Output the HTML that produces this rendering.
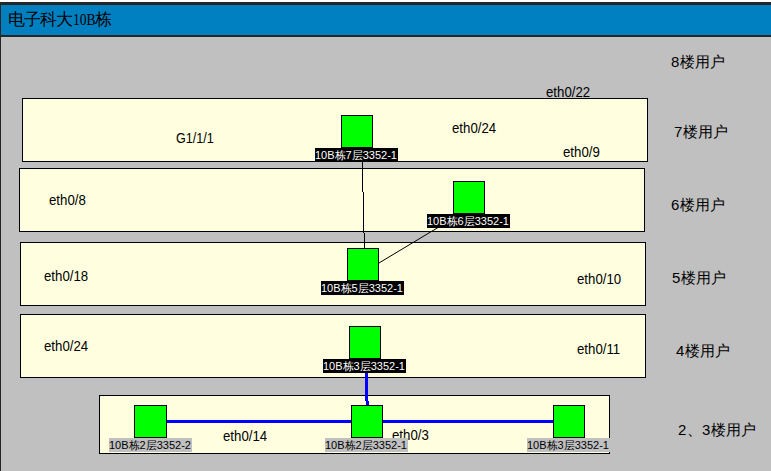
<!DOCTYPE html>
<html><head><meta charset="utf-8">
<style>
html,body{margin:0;padding:0}
body{width:771px;height:471px;position:relative;overflow:hidden;background:#c0c0c0;font-family:"Liberation Sans",sans-serif;color:#000}
div{position:absolute;box-sizing:border-box}
#topw{left:0;top:0;width:771px;height:2px;background:#fff}
#bar{left:0;top:2px;width:771px;height:35px;background:#0080c0;border-top:3px solid #262626;border-bottom:2px solid #262626;border-left:1px solid #262626}
#lb{left:0;top:37px;width:1px;height:434px;background:#262626}
#title{left:8px;top:10px;font-size:17px;line-height:20px;white-space:nowrap;letter-spacing:-1px}
.ser{display:inline-block;font-family:"Liberation Serif",serif;font-size:16px;letter-spacing:0;transform:scaleX(.85);transform-origin:0 0;width:22px;margin-left:1px}
.r{border:1px solid #000;background:#ffffe0}
.t{font-size:14px;line-height:14px;white-space:nowrap;transform:scaleX(0.945);transform-origin:0 0}
.u{font-size:15px;line-height:16px;white-space:nowrap;letter-spacing:0.3px}
.sq{width:32px;height:33px;border:1px solid #000;background:#00ff00}
.lbl{width:83px;height:14px;background:#000;color:#fff;font-size:11px;line-height:14px;white-space:nowrap;padding-left:0}
.lbg{background:#c0c0c0;color:#000}
svg{position:absolute;left:0;top:0}
</style></head><body>
<div id="topw"></div>
<div id="bar"></div>
<div id="lb"></div>
<div id="title">电子科大<span class="ser">10B</span>栋</div>

<div class="u" style="left:671px;top:54px">8楼用户</div>
<div class="u" style="left:674px;top:124px">7楼用户</div>
<div class="u" style="left:671px;top:197px">6楼用户</div>
<div class="u" style="left:672px;top:270px">5楼用户</div>
<div class="u" style="left:676px;top:343px">4楼用户</div>
<div class="u" style="left:678px;top:422px">2、3楼用户</div>

<div class="t" style="left:546px;top:85px">eth0/22</div>

<div class="r" style="left:22px;top:98px;width:626px;height:64px"></div>
<div class="r" style="left:19px;top:168px;width:626px;height:64px"></div>
<div class="r" style="left:20px;top:242px;width:626px;height:64px"></div>
<div class="r" style="left:20px;top:314px;width:626px;height:64px"></div>
<div class="r" style="left:99px;top:395px;width:511px;height:59px"></div>

<div class="t" style="left:176px;top:131px;transform:scaleX(0.9)">G1/1/1</div>
<div class="t" style="left:452px;top:121px">eth0/24</div>
<div class="t" style="left:563px;top:145px">eth0/9</div>
<div class="t" style="left:49px;top:193px">eth0/8</div>
<div class="t" style="left:44px;top:269px">eth0/18</div>
<div class="t" style="left:577px;top:272px">eth0/10</div>
<div class="t" style="left:44px;top:339px">eth0/24</div>
<div class="t" style="left:577px;top:342px">eth0/11</div>
<div class="t" style="left:223px;top:429px">eth0/14</div>
<div class="t" style="left:392px;top:428px">eth0/3</div>

<div style="left:362px;top:161px;width:1px;height:31px;background:#000"></div>
<div style="left:363px;top:192px;width:1px;height:41px;background:#000"></div>
<div style="left:364px;top:233px;width:1px;height:15px;background:#000"></div>
<svg width="771" height="471">
<line x1="438" y1="227.5" x2="379" y2="263" stroke="#000" stroke-width="1"/>
</svg>
<div style="left:365px;top:373px;width:3px;height:28px;background:#0000ff"></div>
<div style="left:366px;top:401px;width:3px;height:4px;background:#0000ff"></div>
<div style="left:167px;top:420px;width:386px;height:3px;background:#0000ff"></div>

<div class="sq" style="left:341px;top:115px"></div>
<div class="lbl" style="left:315px;top:148px">10B栋7层3352-1</div>
<div class="sq" style="left:453px;top:181px"></div>
<div class="lbl" style="left:427px;top:214px">10B栋6层3352-1</div>
<div class="sq" style="left:347px;top:248px"></div>
<div class="lbl" style="left:321px;top:281px">10B栋5层3352-1</div>
<div class="sq" style="left:349px;top:326px"></div>
<div class="lbl" style="left:323px;top:359px">10B栋3层3352-1</div>

<div class="sq" style="left:134px;top:405px;width:33px"></div>
<div class="lbl lbg" style="left:109px;top:438px">10B栋2层3352-2</div>
<div class="sq" style="left:351px;top:405px"></div>
<div class="lbl lbg" style="left:325px;top:438px">10B栋2层3352-1</div>
<div class="sq" style="left:553px;top:405px"></div>
<div class="lbl lbg" style="left:527px;top:438px">10B栋3层3352-1</div>
</body></html>
